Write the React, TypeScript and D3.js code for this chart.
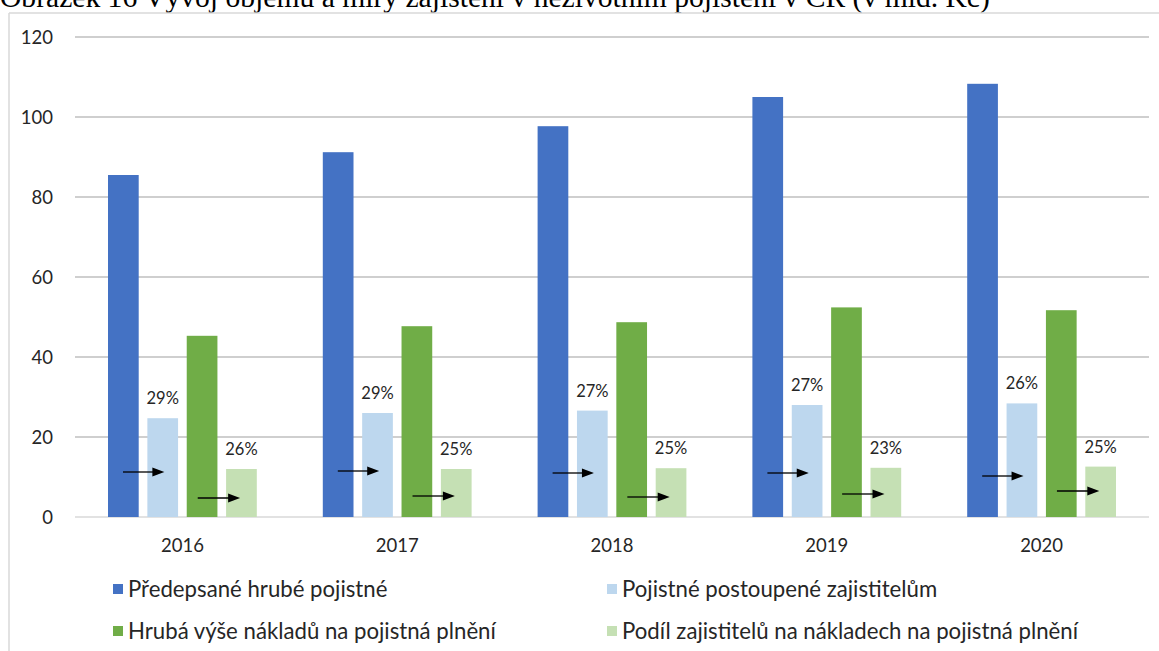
import React from "react";
import * as d3 from "d3";

const years = ["2016", "2017", "2018", "2019", "2020"];
const seriesNames = [
  "Předepsané hrubé pojistné",
  "Pojistné postoupené zajistitelům",
  "Hrubá výše nákladů na pojistná plnění",
  "Podíl zajistitelů na nákladech na pojistná plnění",
];
const grossPremium = [85.5, 91.2, 97.7, 105, 108.3];
const cededPremium = [24.7, 26, 26.6, 28, 28.4];
const grossClaims = [45.3, 47.7, 48.7, 52.4, 51.7];
const reinsClaims = [12, 12, 12.2, 12.3, 12.6];
const cededLabels = ["29%", "29%", "27%", "27%", "26%"];
const claimsLabels = ["26%", "25%", "25%", "23%", "25%"];
const arrow1Level = [11.25, 11.5, 11, 11, 10.25];
const arrow2Level = [4.75, 5.25, 5, 5.75, 6.5];
const yTicks = [0, 20, 40, 60, 80, 100, 120];
const colors = ["#4472C4", "#BDD7EE", "#70AD47", "#C5E0B4"];

const W = 1159;
const H = 651;
const FONT = "Lato, 'Open Sans', sans-serif";

export default function App() {
  const x = d3.scaleBand<string>().domain(years).range([75, 1149]);
  const inner = d3
    .scaleBand<number>()
    .domain([0, 1, 2, 3])
    .range([33, x.bandwidth() - 33])
    .paddingInner(0.22);
  const y = d3.scaleLinear().domain([0, 120]).range([517, 37]);
  const series = [grossPremium, cededPremium, grossClaims, reinsClaims];

  const arrow = (x1: number, x2: number, yy: number, key: string) => (
    <g key={key}>
      <line x1={x1} x2={x2 - 11} y1={yy} y2={yy} stroke="#000" strokeWidth={1.3} />
      <path d={`M${x2},${yy} L${x2 - 12},${yy - 4.5} L${x2 - 12},${yy + 4.5} Z`} fill="#000" />
    </g>
  );

  return (
    <svg
      width={W}
      height={H}
      style={{ position: "absolute", left: 0, top: 0, background: "#fff" }}
    >
      <rect x={0} y={0} width={W} height={H} fill="#fff" />
      <text
        x={0}
        y={6.5}
        fontFamily="'Liberation Serif', 'Times New Roman', serif"
        fontSize={29.6}
        fill="#000"
      >
        Obrázek 16 Vývoj objemu a míry zajištění v neživotním pojištění v ČR (v mld. Kč)
      </text>
      <line x1={9} x2={9} y1={13} y2={H} stroke="#d9d9d9" strokeWidth={1.5} />
      <line x1={9} x2={W} y1={13} y2={13} stroke="#d9d9d9" strokeWidth={1.5} />

      {yTicks.map((t) => (
        <g key={t}>
          <line
            x1={75}
            x2={1149}
            y1={y(t)}
            y2={y(t)}
            stroke={t === 0 ? "#d9d9d9" : "#bfbfbf"}
            strokeWidth={1.3}
          />
          <text
            x={53}
            y={y(t)}
            dy="0.36em"
            textAnchor="end"
            fontFamily={FONT}
            fontSize={18.5}
            fill="#262626"
          >
            {t}
          </text>
        </g>
      ))}

      {years.map((yr, i) => {
        const bx = x(yr)!;
        return (
          <g key={yr}>
            {series.map((s, k) => (
              <rect
                key={k}
                x={bx + inner(k)!}
                y={y(s[i])}
                width={inner.bandwidth()}
                height={y(0) - y(s[i])}
                fill={colors[k]}
              />
            ))}
            <text
              x={bx + inner(1)! + inner.bandwidth() / 2}
              y={y(cededPremium[i]) - 14}
              textAnchor="middle"
              fontFamily={FONT}
              fontSize={16.5}
              fill="#262626"
            >
              {cededLabels[i]}
            </text>
            <text
              x={bx + inner(3)! + inner.bandwidth() / 2}
              y={y(reinsClaims[i]) - 14}
              textAnchor="middle"
              fontFamily={FONT}
              fontSize={16.5}
              fill="#262626"
            >
              {claimsLabels[i]}
            </text>
            {arrow(bx + inner(0)! + 15, bx + inner(1)! + 17, y(arrow1Level[i]), "a1")}
            {arrow(bx + inner(2)! + 11, bx + inner(3)! + 14, y(arrow2Level[i]), "a2")}
            <text
              x={bx + x.bandwidth() / 2}
              y={552}
              textAnchor="middle"
              fontFamily={FONT}
              fontSize={18.5}
              fill="#262626"
            >
              {yr}
            </text>
          </g>
        );
      })}

      {seriesNames.map((name, k) => {
        const lx = k % 2 === 0 ? 113 : 607;
        const ly = k < 2 ? 589 : 631;
        return (
          <g key={name}>
            <rect x={lx} y={ly - 5} width={10} height={10} fill={colors[k]} />
            <text
              x={lx + 15}
              y={ly}
              dy="0.36em"
              fontFamily={FONT}
              fontSize={22.2}
              fill="#262626"
            >
              {name}
            </text>
          </g>
        );
      })}
    </svg>
  );
}
